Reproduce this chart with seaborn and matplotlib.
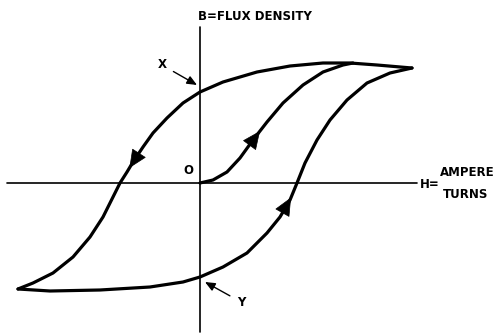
import matplotlib
matplotlib.use("Agg")
import matplotlib.pyplot as plt
import seaborn as sns
import pandas as pd

# Hysteresis loop (H = ampere turns, B = flux density, arbitrary units)
desc_H = [212, 177, 150, 123, 90, 57, 23, 0, -17, -33, -47, -57, -67, -73, -80, -87, -97, -110, -127, -147, -167, -182]
desc_B = [115, 118, 120, 120, 117, 111, 101, 91, 80, 65, 50, 36, 21, 11, 0, -14, -34, -54, -74, -90, -100, -106]

asc_H = [-182, -150, -100, -50, -17, 0, 23, 47, 67, 80, 90, 97, 105, 117, 130, 147, 167, 190, 212]
asc_B = [-106, -108, -107, -104, -99, -94, -84, -70, -50, -34, -17, 0, 20, 43, 63, 83, 100, 110, 115]

init_H = [0, 13, 27, 40, 53, 67, 83, 103, 123, 143, 153]
init_B = [0, 3, 11, 25, 43, 61, 80, 98, 111, 118, 120]

axis_H = [-193, 217]
axis_B = [156, -149]

b_label = "B=FLUX DENSITY"
h_label = "H="
h_unit = ["AMPERE", "TURNS"]

sns.set_theme(style="white")
plt.rcParams['font.family'] = ['DejaVu Sans']

fig = plt.figure(figsize=(4.97, 3.33), dpi=100)
ax = fig.add_axes([0, 0, 1, 1])
ax.set_xlim(-200, 297)
ax.set_ylim(-150, 183)
ax.axis("off")

lw = 2.3
for h, b in [(desc_H, desc_B), (asc_H, asc_B), (init_H, init_B)]:
    df = pd.DataFrame({"H": h, "B": b})
    sns.lineplot(data=df, x="H", y="B", sort=False, estimator=None, color="black",
                 linewidth=lw, ax=ax, solid_capstyle="round", solid_joinstyle="round")

# axes
ax.plot([axis_H[0], axis_H[1]], [0, 0], color="black", lw=1.2)
ax.plot([0, 0], [axis_B[0], axis_B[1]], color="black", lw=1.2)

# direction arrowheads along the curves
arrow_kw = dict(arrowstyle="-|>,head_length=1.0,head_width=0.45", color="black", lw=0.5,
                shrinkA=0, shrinkB=0)
def head(h, b, i, frac):
    x0, y0 = h[i], b[i]
    x1, y1 = h[i + 1], b[i + 1]
    xt = x0 + (x1 - x0) * frac
    yt = y0 + (y1 - y0) * frac
    ax.annotate("", xy=(xt, yt), xytext=(h[i - 1], b[i - 1]), arrowprops=arrow_kw)

head(desc_H, desc_B, 12, 0.6)
head(init_H, init_B, 4, 0.5)
head(asc_H, asc_B, 10, 0.15)

# X and Y pointers
ptr_kw = dict(arrowstyle="-|>,head_length=0.7,head_width=0.3", color="black", lw=1.0,
              shrinkA=3, shrinkB=0)
txt = dict(fontsize=8.5, fontweight="bold", color="black")
ax.annotate("X", xy=(-3, 98), xytext=(-38, 118), ha="center", va="center",
            arrowprops=ptr_kw, **txt)
ax.annotate("Y", xy=(5, -99), xytext=(41, -119), ha="center", va="center",
            arrowprops=ptr_kw, **txt)

ax.text(-2, 167, b_label, ha="left", va="center", **txt)
ax.text(-12, 13, "O", ha="center", va="center", **txt)
ax.text(220, -1, h_label, ha="left", va="center", **txt)
ax.text(240, 11, h_unit[0], ha="left", va="center", **txt)
ax.text(243, -12, h_unit[1], ha="left", va="center", **txt)

fig.savefig("out.png", dpi=100, facecolor="white")
